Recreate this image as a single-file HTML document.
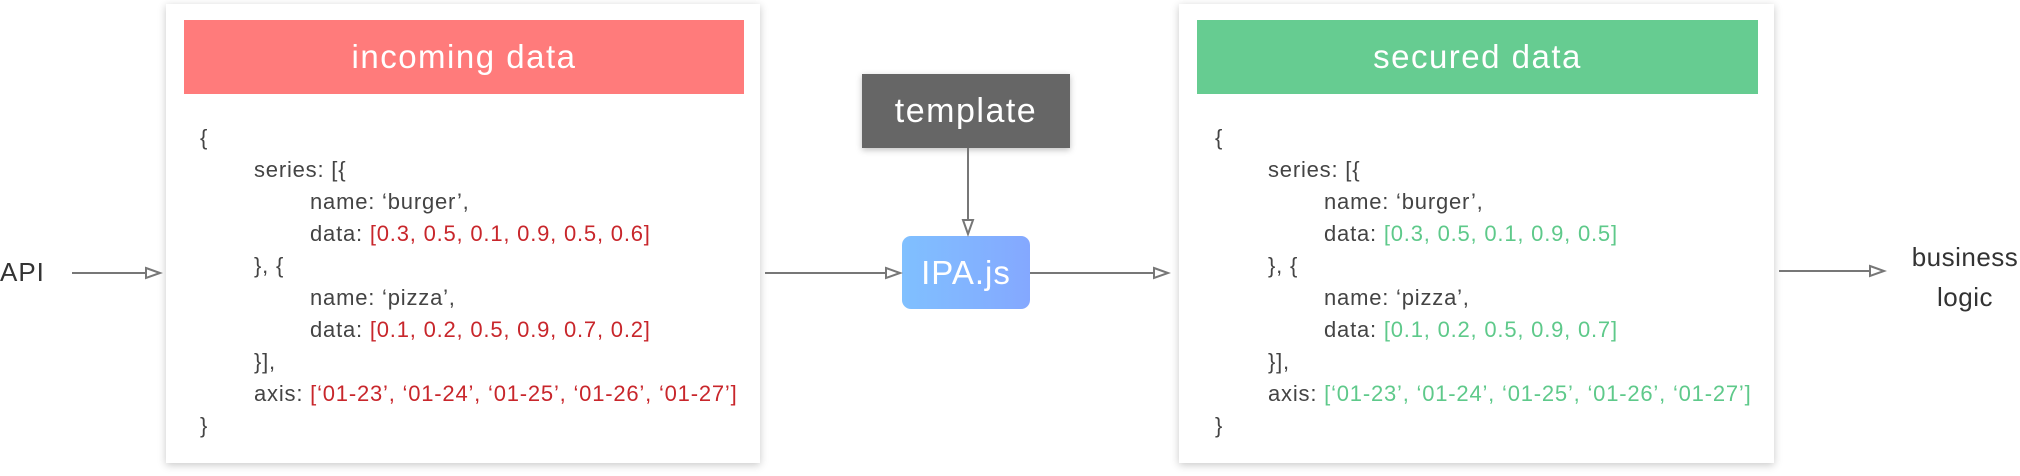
<!DOCTYPE html>
<html><head><meta charset="utf-8"><style>
body{margin:0;width:2020px;height:476px;background:#fff;position:relative;overflow:hidden;font-family:"Liberation Sans",sans-serif;}
.card{position:absolute;top:4px;height:459px;background:#fff;box-shadow:0 2px 8px rgba(0,0,0,0.22);}
.hdr{position:absolute;top:16px;left:18px;right:16px;height:74px;color:#fff;font-size:33px;letter-spacing:1.5px;text-align:center;line-height:74px;}
.code{position:absolute;font-size:22px;letter-spacing:0.8px;color:#444;white-space:pre;}
.r{color:#c8262b}.g{color:#5ec98a}
.lbl{position:absolute;font-size:26px;color:#333;text-align:center;}
</style></head><body>
<div class="card" style="left:166px;width:594px;">
 <div class="hdr" style="background:#ff7b7b;">incoming data</div>
</div>
<div class="card" style="left:1179px;width:595px;">
 <div class="hdr" style="background:#66cc91;">secured data</div>
</div>
<div class="code" style="left:200px;top:122px;line-height:32px;">{
<span style="padding-left:54px">series: [{</span>
<span style="padding-left:110px">name: ‘burger’,</span>
<span style="padding-left:110px">data: <span class="r">[0.3, 0.5, 0.1, 0.9, 0.5, 0.6]</span></span>
<span style="padding-left:54px">}, {</span>
<span style="padding-left:110px">name: ‘pizza’,</span>
<span style="padding-left:110px">data: <span class="r">[0.1, 0.2, 0.5, 0.9, 0.7, 0.2]</span></span>
<span style="padding-left:54px">}],</span>
<span style="padding-left:54px">axis: <span class="r">[‘01-23’, ‘01-24’, ‘01-25’, ‘01-26’, ‘01-27’]</span></span>
}</div>
<div class="code" style="left:1215px;top:122px;line-height:32px;">{
<span style="padding-left:53px">series: [{</span>
<span style="padding-left:109px">name: ‘burger’,</span>
<span style="padding-left:109px">data: <span class="g">[0.3, 0.5, 0.1, 0.9, 0.5]</span></span>
<span style="padding-left:53px">}, {</span>
<span style="padding-left:109px">name: ‘pizza’,</span>
<span style="padding-left:109px">data: <span class="g">[0.1, 0.2, 0.5, 0.9, 0.7]</span></span>
<span style="padding-left:53px">}],</span>
<span style="padding-left:53px">axis: <span class="g">[‘01-23’, ‘01-24’, ‘01-25’, ‘01-26’, ‘01-27’]</span></span>
}</div>
<div style="position:absolute;left:862px;top:74px;width:208px;height:74px;background:#666;box-shadow:0 2px 6px rgba(0,0,0,0.25);color:#fff;font-size:34px;letter-spacing:1.5px;text-align:center;line-height:74px;">template</div>
<div style="position:absolute;left:902px;top:236px;width:128px;height:73px;border-radius:9px;background:linear-gradient(90deg,#80c0ff,#84a8ff);color:#fff;font-size:33px;letter-spacing:1px;text-align:center;line-height:73px;">IPA.js</div>
<div class="lbl" style="left:0;top:257px;letter-spacing:1px;">API</div>
<div class="lbl" style="left:1903px;top:237px;width:124px;line-height:40px;letter-spacing:0.5px;">business<br>logic</div>
<svg width="2020" height="476" style="position:absolute;left:0;top:0" fill="none" stroke="#777" stroke-width="2">
<line x1="72" y1="273" x2="146" y2="273"/><polygon points="146,268 160,273 146,278" fill="#fff"/>
<line x1="765" y1="273" x2="886" y2="273"/><polygon points="886,268 900,273 886,278" fill="#fff"/>
<line x1="1030" y1="273" x2="1154" y2="273"/><polygon points="1154,268 1168,273 1154,278" fill="#fff"/>
<line x1="1779" y1="271" x2="1870" y2="271"/><polygon points="1870,266 1884,271 1870,276" fill="#fff"/>
<line x1="968" y1="148" x2="968" y2="220"/><polygon points="963,220 968,234 973,220" fill="#fff"/>
</svg>
</body></html>
